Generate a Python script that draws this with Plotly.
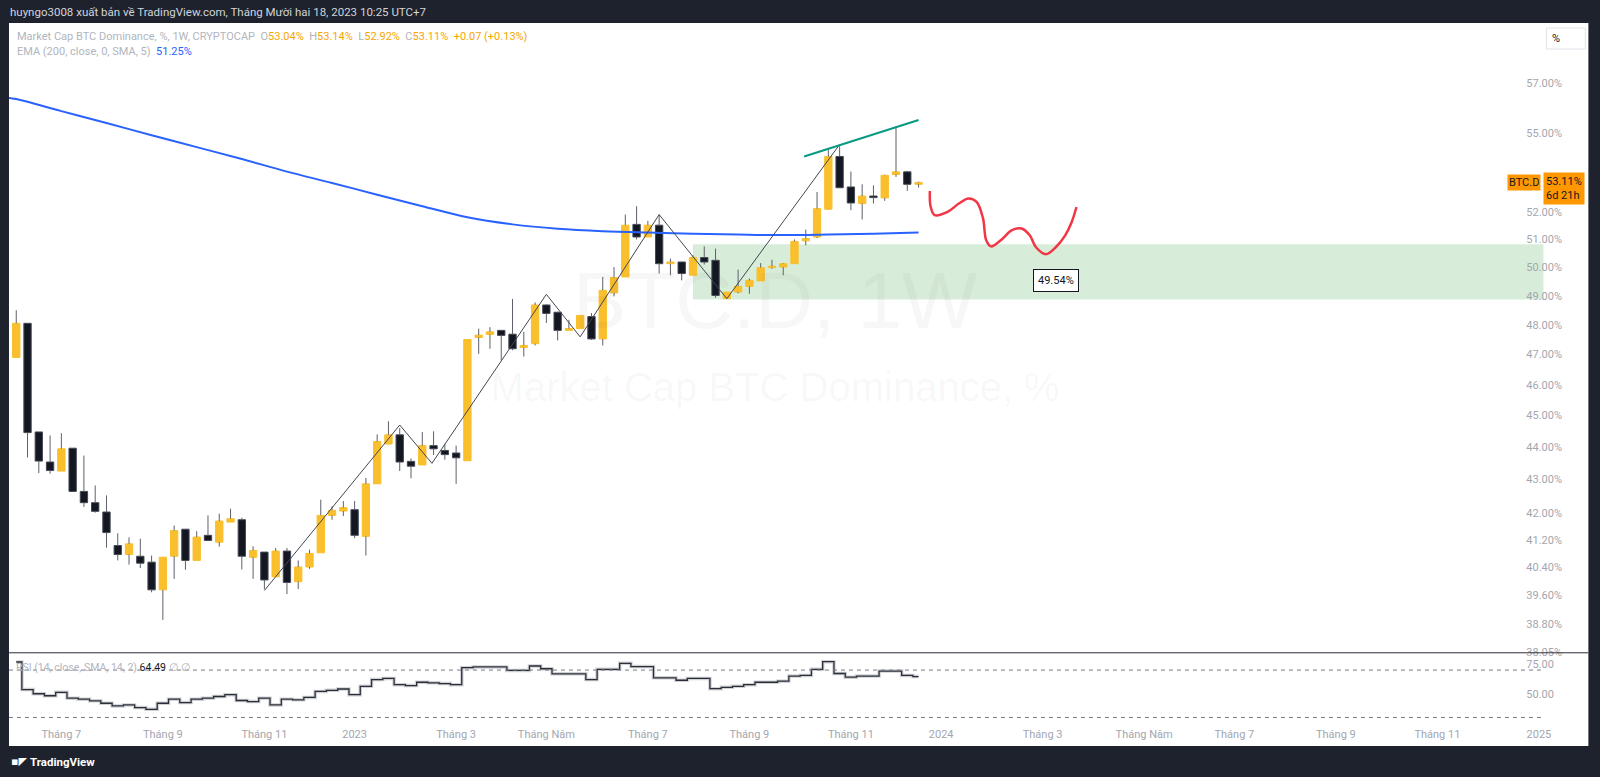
import math
import pandas as pd
import plotly.graph_objects as go

# ---------------- data ----------------
dates = pd.date_range("2022-06-06", periods=81, freq="7D")

opens = [46.9, 48.05, 44.48, 43.54, 43.26, 43.97, 42.64, 42.30, 42.02, 41.03,
         40.77, 40.72, 40.55, 39.76, 40.72, 41.51, 40.6, 41.33, 41.13, 41.72,
         41.79, 40.69, 40.84, 40.13, 40.87, 39.99, 40.41, 40.82, 41.92, 42.05,
         42.09, 41.3, 42.87, 44.1, 44.39, 43.56, 43.45, 44.05, 43.9, 43.82,
         43.58, 47.57, 47.67, 47.81, 47.68, 47.23, 47.36, 48.68, 48.43, 47.81,
         47.87, 48.28, 47.52, 49.1, 49.66, 51.55, 51.09, 51.52, 50.13, 50.19,
         49.72, 50.35, 50.25, 48.9, 49.13, 49.33, 49.52, 49.99, 50.01, 50.13,
         50.95, 51.09, 52.11, 54.1, 52.94, 52.32, 52.6, 52.53, 53.41, 53.51,
         53.04]
highs = [48.5, 48.05, 44.48, 44.37, 44.44, 43.97, 43.74, 42.82, 42.52, 41.39,
         41.27, 41.23, 40.74, 40.69, 41.62, 41.51, 41.45, 41.92, 41.97, 42.12,
         41.85, 41.01, 40.84, 40.96, 40.96, 40.6, 40.91, 42.39, 42.19, 42.35,
         42.35, 43.05, 44.4, 44.82, 44.6, 43.65, 44.48, 44.5, 44.1, 44.05,
         47.5, 47.87, 47.92, 47.81, 48.89, 47.76, 48.77, 48.7, 48.45, 48.17,
         48.32, 48.4, 49.66, 50.01, 51.91, 52.22, 51.68, 51.9, 50.31, 50.2,
         50.43, 50.75, 50.67, 49.13, 49.92, 49.6, 50.15, 50.27, 50.15, 51.0,
         51.36, 52.75, 54.37, 54.49, 53.52, 53.04, 53.0, 53.4, 55.27, 53.55,
         53.14]
lows = [46.9, 43.68, 43.2, 43.18, 43.26, 42.64, 42.17, 42.0, 40.97, 40.6,
        40.48, 40.38, 39.69, 38.92, 40.07, 40.33, 40.6, 41.18, 41.0, 41.72,
        40.34, 40.07, 39.78, 40.13, 39.64, 39.78, 40.36, 40.82, 41.79, 41.9,
        41.25, 40.74, 42.87, 44.1, 43.26, 43.04, 43.45, 43.76, 43.61, 42.87,
        43.58, 47.02, 47.19, 46.8, 47.14, 46.93, 47.3, 48.06, 47.47, 47.81,
        47.87, 47.49, 47.3, 48.98, 49.66, 51.0, 51.09, 49.78, 49.72, 49.54,
        49.72, 50.1, 48.93, 48.9, 49.09, 49.07, 49.52, 49.95, 49.72, 50.13,
        50.79, 51.05, 52.1, 52.9, 52.07, 51.73, 52.32, 52.42, 53.32, 52.79,
        52.92]
closes = [48.05, 44.46, 43.57, 43.28, 43.95, 42.64, 42.30, 42.04, 41.41, 40.77,
          41.08, 40.52, 39.76, 40.69, 41.47, 40.6, 41.28, 41.18, 41.75, 41.82,
          40.72, 40.89, 40.04, 40.87, 39.97, 40.41, 40.8, 41.92, 42.07, 42.15,
          41.33, 42.87, 44.18, 44.39, 43.54, 43.41, 44.05, 43.95, 43.77, 43.67,
          47.5, 47.65, 47.76, 47.64, 47.19, 47.3, 48.68, 48.39, 47.81, 47.87,
          48.32, 47.52, 49.19, 49.64, 51.52, 51.09, 51.52, 50.13, 50.19, 49.78,
          50.35, 50.19, 49.01, 49.13, 49.33, 49.54, 49.99, 50.04, 50.13, 50.93,
          51.03, 52.13, 54.1, 52.91, 52.34, 52.6, 52.54, 53.38, 53.51, 53.04,
          53.11]

# EMA(200) read every 4 weeks (plus left edge)
ema_dates = ["2022-05-30", "2022-06-06", "2022-07-04", "2022-08-01", "2022-08-29", "2022-09-26",
             "2022-10-24", "2022-11-21", "2022-12-19", "2023-01-16", "2023-02-13",
             "2023-03-13", "2023-04-10", "2023-05-08", "2023-06-05", "2023-07-03",
             "2023-07-31", "2023-08-28", "2023-09-25", "2023-10-23", "2023-11-20",
             "2023-12-18"]
ema_vals = [56.42, 56.35, 55.87, 55.4, 54.92, 54.46, 54.0, 53.52, 53.09, 52.65, 52.22,
            51.81, 51.55, 51.39, 51.3, 51.25, 51.21, 51.18, 51.16, 51.18, 51.21,
            51.25]

rsi_vals = [76.8, 53.5, 50.0, 48.3, 51.2, 46.3, 45.4, 44.0, 42.0, 39.7,
            40.6, 38.3, 36.9, 42.0, 45.4, 42.6, 45.4, 46.3, 47.7, 49.2,
            44.3, 43.4, 46.3, 40.6, 45.4, 44.9, 46.9, 52.0, 52.9, 54.0,
            49.2, 56.3, 62.0, 62.9, 57.7, 56.9, 59.7, 59.2, 58.6, 57.7,
            72.0, 72.6, 72.6, 72.6, 69.7, 69.7, 73.4, 71.1, 66.8, 66.8,
            66.8, 62.0, 70.6, 70.6, 75.7, 72.9, 72.9, 63.4, 63.4, 61.4,
            62.9, 62.9, 54.3, 55.4, 56.3, 57.7, 59.7, 59.7, 60.6, 64.9,
            65.5, 70.6, 77.1, 67.1, 64.0, 64.9, 64.9, 69.1, 69.1, 65.5,
            64.49]

zig_dates = ["2022-11-07", "2023-01-30", "2023-02-19", "2023-05-01",
             "2023-05-22", "2023-07-10", "2023-08-21", "2023-10-30"]
zig_vals = [39.74, 44.7, 43.5, 49.05, 47.59, 51.91, 48.9, 54.56]

trend_dates = ["2023-10-08", "2023-12-18"]
trend_vals = [54.1, 55.52]

red_dates = ["2023-12-25", "2023-12-25 12:00", "2023-12-28", "2024-01-05", "2024-01-12",
             "2024-01-18", "2024-01-23", "2024-01-27", "2024-01-29", "2024-02-01",
             "2024-02-07", "2024-02-14", "2024-02-20", "2024-02-25", "2024-02-29",
             "2024-03-06", "2024-03-12", "2024-03-18", "2024-03-22", "2024-03-25"]
red_vals = [52.79, 52.2, 51.89, 52.01, 52.32, 52.51, 52.38, 51.77, 50.97, 50.75,
            50.97, 51.34, 51.4, 51.15, 50.71, 50.47, 50.71, 51.15, 51.63, 52.19]

zone_start, zone_low, zone_high = "2023-07-31", 48.87, 50.83
price_label_date, price_label_val = "2024-03-12", 49.54

price_ticks = [57, 55, 52, 51, 50, 49, 48, 47, 46, 45, 44, 43, 42, 41.2, 40.4, 39.6, 38.8, 38.05]
price_ticktext = [f"{v:.2f}%" for v in price_ticks]
rsi_ticks = [75, 50]
rsi_ticktext = ["75.00", "50.00"]
time_ticks = ["2022-07-04", "2022-09-05", "2022-11-07", "2023-01-02", "2023-03-06",
              "2023-05-01", "2023-07-03", "2023-09-04", "2023-11-06", "2024-01-01",
              "2024-03-04", "2024-05-06", "2024-07-01", "2024-09-02", "2024-11-04",
              "2025-01-06"]
time_ticktext = ["Tháng 7", "Tháng 9", "Tháng 11", "2023", "Tháng 3", "Tháng Năm",
                 "Tháng 7", "Tháng 9", "Tháng 11", "2024", "Tháng 3", "Tháng Năm",
                 "Tháng 7", "Tháng 9", "Tháng 11", "2025"]

# ---------------- layout helpers ----------------
W, H = 1600, 777
SX, SY = 1.004, 1.009   # small corrections for the capture
BG = "#1e222d"
def fx(p):
    return p * SX / W
def fy(p):
    return 1 - p * SY / H

UP = "#F9BF2C"
DN = "#131722"
WICK = "#5d606b"
FONT = "Roboto"
GREY = "#a3a6af"
BODY_MS = 4.55 * 24 * 3600 * 1000  # body width in ms (65% of a week)

fig = go.Figure()

body_hi = [max(o, c) for o, c in zip(opens, closes)]
body_lo = [min(o, c) for o, c in zip(opens, closes)]
wx, wy = [], []
for d, h, bh, bl, l in zip(dates, highs, body_hi, body_lo, lows):
    if h > bh:
        wx += [d, d, None]
        wy += [h, bh, None]
    if l < bl:
        wx += [d, d, None]
        wy += [bl, l, None]

colors = [UP if c >= o else DN for o, c in zip(opens, closes)]
edges = [UP if c >= o else "#454852" for o, c in zip(opens, closes)]
fig.add_trace(go.Bar(x=dates, y=[h - l for h, l in zip(body_hi, body_lo)], base=body_lo,
                     width=BODY_MS, marker=dict(color=colors, line=dict(color=edges, width=1)),
                     hoverinfo="skip", showlegend=False))

fig.add_trace(go.Scatter(x=["2023-09-20"], y=[48.56], mode="text", text=["BTC.D, 1W"],
                         textfont=dict(size=80, color="rgba(60,60,80,0.045)", family="Liberation Sans"),
                         hoverinfo="skip", showlegend=False))
fig.add_trace(go.Scatter(x=["2023-09-20"], y=[45.78], mode="text", text=["Market Cap BTC Dominance, %"],
                         textfont=dict(size=40, color="rgba(60,60,80,0.045)", family="Liberation Sans"),
                         hoverinfo="skip", showlegend=False))

fig.add_trace(go.Scatter(x=wx, y=wy, mode="lines", line=dict(color=WICK, width=1),
                         hoverinfo="skip", showlegend=False, connectgaps=False))

fig.add_trace(go.Scatter(x=ema_dates, y=ema_vals, mode="lines",
                         line=dict(color="#2962ff", width=2, shape="spline"),
                         hoverinfo="skip", showlegend=False))
fig.add_trace(go.Scatter(x=zig_dates, y=zig_vals, mode="lines",
                         line=dict(color="#434651", width=1), hoverinfo="skip", showlegend=False))
fig.add_trace(go.Scatter(x=trend_dates, y=trend_vals, mode="lines",
                         line=dict(color="#089981", width=2), hoverinfo="skip", showlegend=False))
fig.add_trace(go.Scatter(x=red_dates, y=red_vals, mode="lines",
                         line=dict(color="#f23645", width=2.5, shape="spline", smoothing=1.0),
                         hoverinfo="skip", showlegend=False))
fig.add_trace(go.Scatter(x=dates, y=rsi_vals, mode="lines", xaxis="x2", yaxis="y2",
                         line=dict(color="rgba(120,123,134,0.35)", width=3.5, shape="hvh"),
                         hoverinfo="skip", showlegend=False))
fig.add_trace(go.Scatter(x=dates, y=rsi_vals, mode="lines", xaxis="x2", yaxis="y2",
                         line=dict(color="#2a2e39", width=1.3, shape="hvh"),
                         hoverinfo="skip", showlegend=False))

shapes = [
    dict(type="rect", xref="paper", yref="paper", x0=fx(9), x1=fx(1590), y0=fy(745), y1=fy(23),
         fillcolor="white", line=dict(width=0), layer="below"),
    dict(type="rect", xref="x", yref="y", x0=zone_start, x1="2026-01-01", y0=zone_low, y1=zone_high,
         fillcolor="rgba(76,175,80,0.22)", line=dict(width=0), layer="below"),
    dict(type="line", xref="paper", yref="paper", x0=fx(9), x1=fx(1590), y0=fy(652), y1=fy(652),
         line=dict(color="#2a2e39", width=1)),
    dict(type="line", xref="x2 domain", yref="y2", x0=0, x1=1, y0=70, y1=70,
         line=dict(color="#787b86", width=1, dash="4px,4px")),
    dict(type="line", xref="x2 domain", yref="y2", x0=0, x1=1, y0=30, y1=30,
         line=dict(color="#787b86", width=1, dash="4px,4px")),
    dict(type="rect", xref="paper", yref="paper", x0=fx(1548), x1=fx(1587), y0=fy(49), y1=fy(28),
         fillcolor="white", line=dict(color="#e0e3eb", width=1)),
]

O_COL = "#f7a600"
header1 = (f"<span style='color:#b2b5be'>Market Cap BTC Dominance, %, 1W, CRYPTOCAP</span>"
           f"  <span style='color:#b2b5be'>O</span><span style='color:{O_COL}'>{opens[-1]:.2f}%</span>"
           f"  <span style='color:#b2b5be'>H</span><span style='color:{O_COL}'>{highs[-1]:.2f}%</span>"
           f"  <span style='color:#b2b5be'>L</span><span style='color:{O_COL}'>{lows[-1]:.2f}%</span>"
           f"  <span style='color:#b2b5be'>C</span><span style='color:{O_COL}'>{closes[-1]:.2f}%</span>"
           f"  <span style='color:{O_COL}'>+0.07 (+0.13%)</span>")
header2 = f"<span style='color:#b2b5be'>EMA (200, close, 0, SMA, 5)</span>  <span style='color:#2962ff'>{ema_vals[-1]:.2f}%</span>"
rsi_head = f"<span style='color:#b2b5be'>RSI (14, close, SMA, 14, 2)</span> <span style='color:#131722'>{rsi_vals[-1]:.2f}</span> <span style='color:#b2b5be'>∅ ∅</span>"

annotations = [
    dict(xref="paper", yref="paper", x=fx(8), y=fy(12), xanchor="left", yanchor="middle",
         text="huyngo3008 xuất bản về TradingView.com, Tháng Mười hai 18, 2023 10:25 UTC+7",
         showarrow=False, font=dict(family=FONT, size=11.5, color="#d1d4dc")),
    dict(xref="paper", yref="paper", x=fx(15), y=fy(36.5), xanchor="left", yanchor="middle",
         text=header1, showarrow=False, font=dict(family=FONT, size=11)),
    dict(xref="paper", yref="paper", x=fx(15), y=fy(51), xanchor="left", yanchor="middle",
         text=header2, showarrow=False, font=dict(family=FONT, size=11)),
    dict(xref="paper", yref="paper", x=fx(14), y=fy(667), xanchor="left", yanchor="middle",
         text=rsi_head, showarrow=False, font=dict(family=FONT, size=10.5)),
    dict(xref="paper", yref="paper", x=fx(1558), y=fy(38.5), xanchor="center", yanchor="middle",
         text="%", showarrow=False, font=dict(family=FONT, size=11, color="#131722")),
    dict(xref="paper", yref="paper", x=fx(1526), y=fy(182.5), xanchor="center", yanchor="middle",
         text="BTC.D", showarrow=False, bgcolor="#ff9800", borderpad=1,
         font=dict(family=FONT, size=11, color="#131722")),
    dict(xref="paper", yref="paper", x=fx(1545), y=fy(188.5), xanchor="left", yanchor="middle",
         text=f"{closes[-1]:.2f}%<br>6d 21h", align="left", showarrow=False, bgcolor="#ff9800", borderpad=2,
         font=dict(family=FONT, size=11, color="#131722")),
    dict(xref="x", yref="y", x=price_label_date, y=math.log10(price_label_val), xanchor="center", yanchor="middle",
         text=f"{price_label_val:.2f}%", showarrow=False, bgcolor="white", bordercolor="#131722",
         borderwidth=1, borderpad=4, font=dict(family=FONT, size=11, color="#131722")),
    dict(xref="paper", yref="paper", x=fx(28), y=fy(761), xanchor="left", yanchor="middle",
         text="<b>TradingView</b>", showarrow=False, font=dict(family=FONT, size=11.5, color="#ffffff")),
    dict(xref="paper", yref="paper", x=fx(9), y=fy(761), xanchor="left", yanchor="middle",
         text="<b>▪◤</b>", showarrow=False, font=dict(family="DejaVu Sans", size=11, color="#ffffff")),
]

x_left = pd.Timestamp("2023-01-02") - pd.Timedelta(days=214.5)
x_right = pd.Timestamp("2023-01-02") + pd.Timedelta(days=737.8)
label_axis_pos = (1545 - 12) / W   # price-scale label column (tuned on the capture)

fig.update_layout(
    width=W, height=H, margin=dict(l=0, r=0, t=0, b=0),
    paper_bgcolor=BG, plot_bgcolor="white", showlegend=False,
    barmode="overlay",
    font=dict(family=FONT, color=GREY, size=11),
    xaxis=dict(domain=[fx(9), fx(1545)], type="date", range=[x_left, x_right],
               rangeslider=dict(visible=False), showgrid=False, zeroline=False,
               showticklabels=False, ticks="", anchor="y", showline=False),
    yaxis=dict(domain=[fy(652), fy(23)], type="log",
               range=[math.log10(38.02), math.log10(59.48)], side="right",
               anchor="free", position=label_axis_pos,
               tickmode="array", tickvals=price_ticks, ticktext=price_ticktext,
               showgrid=False, zeroline=False, ticks="", showline=False,
               tickfont=dict(family=FONT, size=11, color=GREY)),
    xaxis2=dict(domain=[fx(9), fx(1545)], type="date", matches="x", anchor="y2",
                tickmode="array", tickvals=time_ticks, ticktext=time_ticktext,
                showgrid=False, zeroline=False, ticks="", showline=False,
                tickfont=dict(family=FONT, size=11, color=GREY)),
    yaxis2=dict(domain=[fy(725), fy(652)], range=[22.9, 84.56], side="right",
                anchor="free", position=label_axis_pos,
                tickmode="array", tickvals=rsi_ticks, ticktext=rsi_ticktext,
                showgrid=False, zeroline=False, ticks="", showline=False,
                tickfont=dict(family=FONT, size=11, color=GREY)),
    shapes=shapes, annotations=annotations,
)

fig.write_html("out.html", config={"displayModeBar": False})
